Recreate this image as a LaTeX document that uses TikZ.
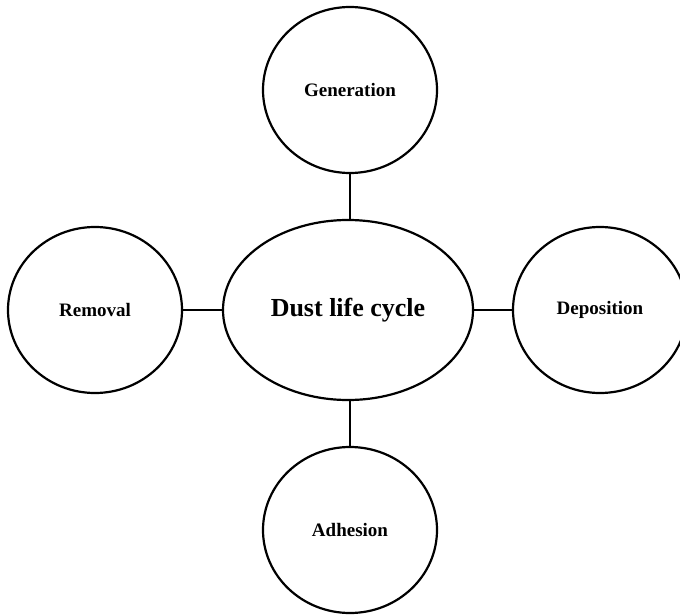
\documentclass[tikz,border=0pt]{standalone}
\usepackage{fontspec}
\setmainfont{Liberation Serif}
\usetikzlibrary{shapes.geometric}
\begin{document}
\begin{tikzpicture}[x=1pt,y=-1pt,
  stage/.style={ellipse,draw,line width=2.2pt,inner sep=0pt,
    minimum width=174pt,minimum height=166pt,
    font=\fontsize{19}{22}\selectfont\bfseries},
  hub/.style={ellipse,draw,line width=2.2pt,inner sep=0pt,
    minimum width=250pt,minimum height=180pt,
    font=\fontsize{26}{30}\selectfont\bfseries},
  link/.style={line width=2.2pt}]
  \useasboundingbox (0,0) rectangle (680,615);
  \clip (0,0) rectangle (680,615);
  \node[hub]   (dust) at (348,310) {Dust life cycle};
  \node[stage] (gen)  at (350,90)  {Generation};
  \node[stage] (rem)  at (95,310)  {Removal};
  \node[stage] (dep)  at (600,310) {Deposition};
  \node[stage] (adh)  at (350,530) {Adhesion};
  \draw[link] (gen.south) -- (gen.south |- dust.north);
  \draw[link] (rem) -- (dust);
  \draw[link] (dep) -- (dust);
  \draw[link] (adh.north) -- (adh.north |- dust.south);
\end{tikzpicture}
\end{document}
